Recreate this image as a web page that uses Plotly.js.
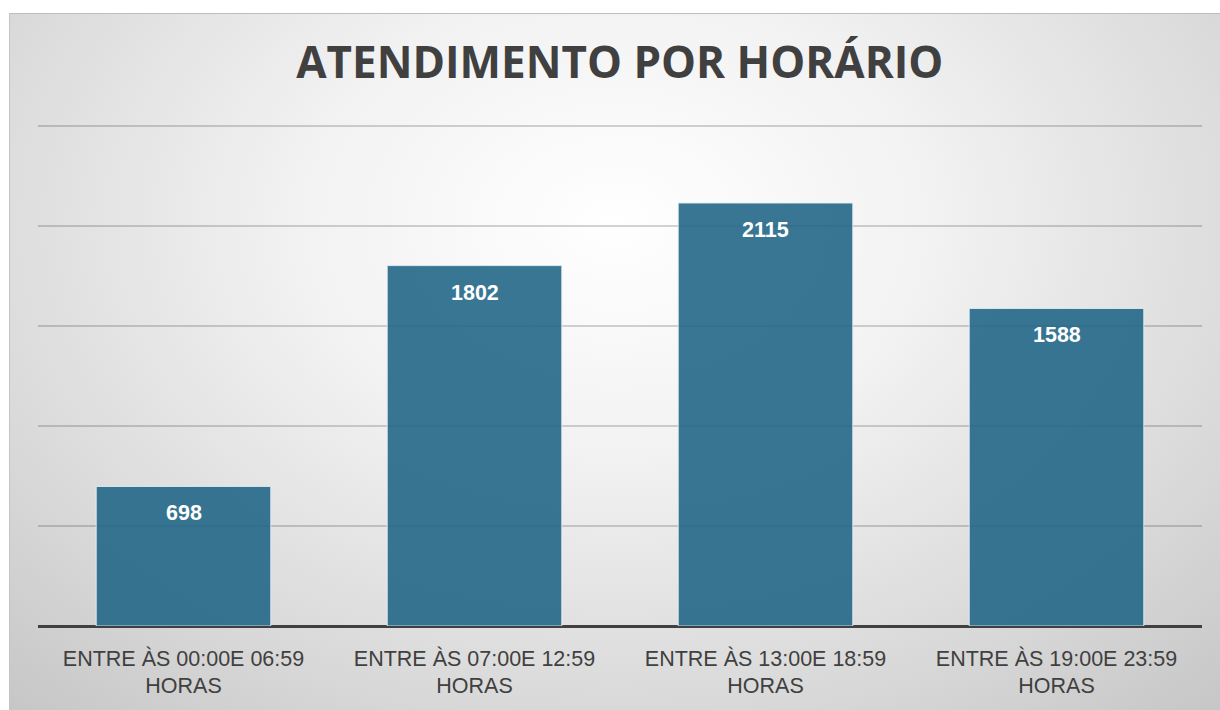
<!DOCTYPE html>
<html>
<head>
<meta charset="utf-8">
<script src="https://cdn.plot.ly/plotly-3.0.1.min.js"></script>
<style>
html,body{margin:0;padding:0;background:#ffffff;width:1220px;height:710px;overflow:hidden;}
#panel{position:absolute;left:9px;top:13px;width:1211px;height:697px;
  background:radial-gradient(ellipse 75% 95% at 50% 30%, #ffffff 0%, #f2f2f2 35%, #dadada 72%, #c6c6c6 100%);
  border-top:1px solid #bdbdbd;border-left:1px solid #c4c4c4;box-sizing:border-box;}
#chart{position:absolute;left:0;top:0;width:1220px;height:710px;}
</style>
</head>
<body>
<div id="panel"></div>
<div id="chart"></div>
<script>
const categories = [
  "ENTRE ÀS 00:00E 06:59<br>HORAS",
  "ENTRE ÀS 07:00E 12:59<br>HORAS",
  "ENTRE ÀS 13:00E 18:59<br>HORAS",
  "ENTRE ÀS 19:00E 23:59<br>HORAS"
];
const values = [698, 1802, 2115, 1588];
const chartTitle = "ATENDIMENTO POR HORÁRIO";

const trace = {
  type: 'bar',
  x: categories,
  y: values,
  marker: {color: 'rgba(36,103,136,0.9)', line: {color: 'rgba(230,240,245,0.9)', width: 1}},
  hoverinfo: 'none'
};

const annotations = categories.map((c, i) => ({
  x: c, y: values[i], xref: 'x', yref: 'y',
  text: '<b>' + values[i] + '</b>', showarrow: false,
  yanchor: 'middle', yshift: -27,
  font: {family: 'Liberation Sans, Arial, sans-serif', size: 21.5, color: '#ffffff'}
}));

const layout = {
  width: 1220, height: 710,
  paper_bgcolor: 'rgba(0,0,0,0)', plot_bgcolor: 'rgba(0,0,0,0)',
  margin: {l: 38, r: 18, t: 120, b: 84},
  title: {text: '<b>' + chartTitle + '</b>', x: 0.508, xanchor: 'center', y: 0.912, yanchor: 'middle',
    font: {family: 'Open Sans, sans-serif', size: 44, color: '#404040'}},
  bargap: 0.4,
  showlegend: false,
  xaxis: {
    tickfont: {family: 'Liberation Sans, Arial, sans-serif', size: 21.5, color: '#404040'},
    ticklabelstandoff: 17,
    showline: false, ticks: '', showgrid: false, zeroline: false, fixedrange: true
  },
  yaxis: {
    range: [0, 2530], tickvals: [0, 500, 1000, 1500, 2000, 2500], showticklabels: false, showgrid: true,
    gridcolor: 'rgba(0,0,0,0.17)', gridwidth: 1.3, zeroline: true, zerolinecolor: '#404040', zerolinewidth: 3,
    showline: false, ticks: '', fixedrange: true
  },
  annotations: annotations
};

Plotly.newPlot('chart', [trace], layout, {displayModeBar: false, staticPlot: true});
</script>
</body>
</html>
